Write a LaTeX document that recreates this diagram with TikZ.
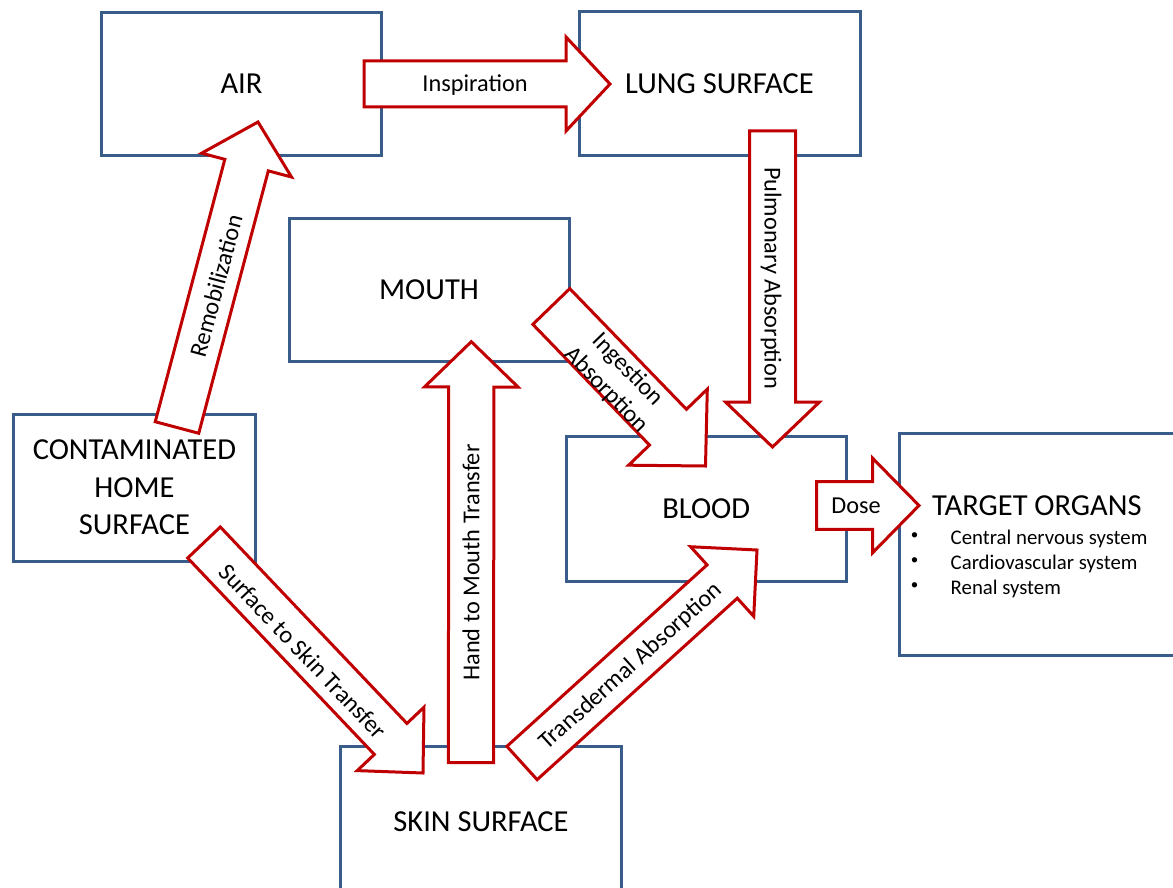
\documentclass[tikz,border=0pt]{standalone}
\usepackage{fontspec}
\setmainfont{Carlito}
\usetikzlibrary{calc}
\definecolor{boxblue}{HTML}{385D8A}
\definecolor{arrred}{HTML}{C00000}
\tikzset{
  box/.style={draw=boxblue, line width=3pt, fill=white, rectangle},
  blk/.style={draw=arrred, line width=3pt, fill=white, line join=miter},
  boxtext/.style={font=\fontsize{30.5}{37.5}\selectfont, align=center, inner sep=0pt},
  lbl/.style={font=\fontsize{24.3}{29.5}\selectfont, align=center, inner sep=0pt},
  itemtext/.style={font=\fontsize{20.8}{25}\selectfont, anchor=base west, inner sep=0pt},
  bul/.style={font=\fontsize{15}{15}\selectfont, anchor=center, inner sep=0pt}
}
% #1 start, #2 tip, #3 shaft half width, #4 head half width, #5 head length
\newcommand{\blockarrow}[5]{%
  \coordinate (H) at ($(#2)!#5!(#1)$);
  \draw[blk] ($(#1)!#3!90:(#2)$) -- ($(H)!#3!-90:(#1)$) -- ($(H)!#4!-90:(#1)$)
    -- (#2) -- ($(H)!#4!90:(#1)$) -- ($(H)!#3!90:(#1)$) -- ($(#1)!#3!-90:(#2)$) -- cycle;
}
\begin{document}
\begin{tikzpicture}[x=1pt,y=-1pt]
\useasboundingbox (0,0) rectangle (1173,888);
\clip (0,0) rectangle (1173,888);
\fill[white] (0,0) rectangle (1173,888);

% boxes
\node[box, boxtext, minimum width=280.5pt, minimum height=143.5pt] (air) at (241.5,84) {AIR};
\node[box, boxtext, minimum width=281pt, minimum height=144pt] (lung) at (719.5,84) {LUNG SURFACE};
\node[box, boxtext, minimum width=280pt, minimum height=143.7pt] (mouth) at (429,290) {MOUTH};
\node[box, boxtext, minimum width=242pt, minimum height=147pt] (home) at (134.4,487.5) {CONTAMINATED\\HOME\\SURFACE};
\node[box, boxtext, minimum width=280.4pt, minimum height=145pt] (blood) at (706.2,508.5) {BLOOD};
\node[box, boxtext, minimum width=281pt, minimum height=150pt] (skin) at (481,821.7) {SKIN SURFACE};
\node[box, minimum width=290pt, minimum height=222pt, anchor=north west] (target) at (897.7,432) {};

% target organs text
\node[boxtext, anchor=west] (tgt) at (932,506) {TARGET ORGANS};
\node[bul] (b1) at (914.5,536.5) {•};
\node[bul] (b2) at (914.5,561.5) {•};
\node[bul] (b3) at (914.5,586.5) {•};
\node[itemtext] (i1) at (950.5,544) {Central nervous system};
\node[itemtext] (i2) at (950.5,569) {Cardiovascular system};
\node[itemtext] (i3) at (950.5,594) {Renal system};

% arrow end points
\coordinate (insS) at (364,84);     \coordinate (insT) at (610,84);
\coordinate (remS) at (177,427.5);  \coordinate (remT) at (258,122);
\coordinate (pulS) at (772.5,131);  \coordinate (pulT) at (772.5,447);
\coordinate (ingS) at (551.3,306.5);\coordinate (ingT) at (705.5,466);
\coordinate (hndS) at (471,762.7);  \coordinate (hndT) at (471.3,341.7);
\coordinate (sufS) at (204,542.5);  \coordinate (sufT) at (423,773);
\coordinate (trnS) at (522,763);    \coordinate (trnT) at (757,550);
\coordinate (dosS) at (816.7,505.5);\coordinate (dosT) at (919,505.5);

\blockarrow{insS}{insT}{23pt}{47pt}{44pt}
\blockarrow{remS}{remT}{22.5pt}{46.5pt}{44.6pt}
\blockarrow{pulS}{pulT}{23pt}{47pt}{45pt}
\blockarrow{ingS}{ingT}{25.7pt}{54.7pt}{54pt}
\blockarrow{hndS}{hndT}{22.6pt}{46.8pt}{45.3pt}
\blockarrow{sufS}{sufT}{22.5pt}{46pt}{47pt}
\blockarrow{trnS}{trnT}{22.5pt}{47pt}{47pt}
\blockarrow{dosS}{dosT}{23.8pt}{47.4pt}{46.5pt}

% arrow labels
\node[lbl] (insL) at (475,85) {Inspiration};
\node[lbl, rotate=75] (remL) at (216,286) {Remobilization};
\node[lbl, rotate=-90] (pulL) at (771,278) {Pulmonary Absorption};
\node[lbl, rotate=-46] (ingL) at (617,380) {Ingestion\\Absorption};
\node[lbl, rotate=90] (hndL) at (471,562.5) {Hand to Mouth Transfer};
\node[lbl, rotate=-46.5] (sufL) at (303,651) {Surface to Skin Transfer};
\node[lbl, rotate=42] (trnL) at (631,666.5) {Transdermal Absorption};
\node[lbl] (dosL) at (856,506) {Dose};
\end{tikzpicture}
\end{document}
